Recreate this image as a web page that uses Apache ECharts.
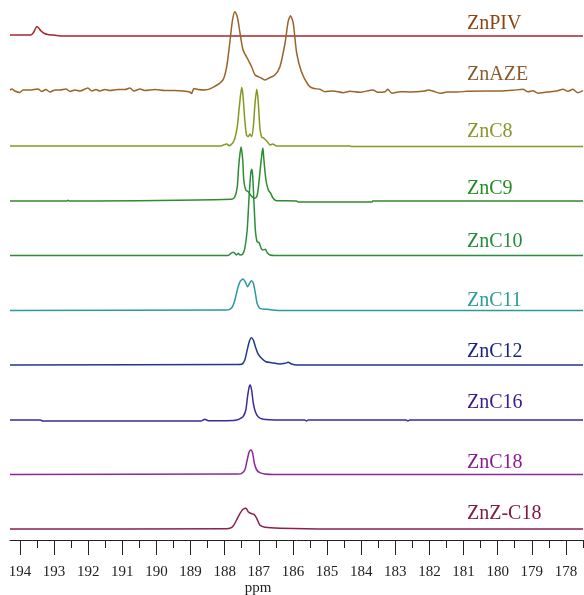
<!DOCTYPE html>
<html>
<head>
<meta charset="utf-8">
<title>13C NMR carboxylate region</title>
<script src="https://cdn.jsdelivr.net/npm/echarts@6/dist/echarts.min.js"></script>
<style>
  html, body { margin: 0; padding: 0; background: #ffffff; }
  #chart { width: 584px; height: 595px; }
</style>
</head>
<body>
<div id="chart"></div>
<script>
// Chemical shift axis (ppm), drawn high to low
const ppmMajorTicks = [194, 193, 192, 191, 190, 189, 188, 187, 186, 185, 184, 183, 182, 181, 180, 179, 178];
const ppmMinorTicks = [193.5, 192.5, 191.5, 190.5, 189.5, 188.5, 187.5, 186.5, 185.5, 184.5, 183.5, 182.5, 181.5, 180.5, 179.5, 178.5, 177.5];

// Sample names, top to bottom
const sampleNames = ['ZnPIV', 'ZnAZE', 'ZnC8', 'ZnC9', 'ZnC10', 'ZnC11', 'ZnC12', 'ZnC16', 'ZnC18', 'ZnZ-C18'];

// Vertical offset of each trace's baseline in the stacked plot
const stackOffsets = [504, 450, 394, 339, 284.5, 229.5, 175, 120, 65.5, 11];

// Spectra: [ppm, intensity]
const specZnPIV = [[194.29, 1], [193.68, 1], [193.6, 3.5], [193.55, 7], [193.5, 9.5], [193.45, 8], [193.38, 5],
  [193.28, 2.5], [193.18, 1.5], [192.9, 0.5], [192.74, 0], [177.5, 0]];

const specZnAZE = [[194.29, 0], [194.23, 1], [194.15, -1], [194.0, -2.5], [193.91, 0], [193.71, 0], [193.47, 1],
  [193.36, -1.5], [193.24, 0.5], [193.12, -2], [192.97, 0], [192.83, 0], [192.65, 1], [192.53, -1.5], [192.39, 0],
  [192.24, -1], [192.01, 2], [191.89, -1], [191.77, 0.5], [191.66, -1], [191.51, 0.5], [191.36, -0.5], [191.13, 0.5],
  [190.92, 0.5], [190.78, 2], [190.66, -1], [190.48, 1], [190.34, -0.5], [190.04, 0.5], [189.75, -0.5], [189.46, -0.5],
  [189.22, -1], [189.02, -2], [188.97, -3.5], [188.9, 1.5], [188.78, 0.5], [188.58, 0], [188.34, 2.7],
  [188.05, 10], [187.94, 23.3], [187.85, 47], [187.77, 70], [187.7, 78.3], [187.63, 73.3], [187.55, 57], [187.46, 40],
  [187.31, 30], [187.21, 23.3], [187.11, 15], [186.97, 12.7], [186.82, 10], [186.72, 11.7], [186.53, 15], [186.38, 23.3],
  [186.23, 47], [186.14, 68.3], [186.07, 74.3], [185.99, 66.7], [185.89, 37], [185.75, 18.3], [185.55, 5], [185.41, 1.7],
  [185.21, 0.7], [185.06, -1.7], [184.83, -1], [184.53, -2.7], [184.33, -1.3], [184.04, -2.3], [183.66, 0], [183.51, -2.3],
  [183.3, -1.7], [183.22, 0.7], [183.1, -3.3], [182.86, -1.7], [182.57, -2], [182.13, -1], [182.04, 0], [181.9, -1],
  [181.69, -3.3], [181.49, -2], [181.19, -2], [180.9, -1.3], [180.31, -1], [179.93, -1], [179.55, -0.3], [179.26, 0.7],
  [179.11, -1.7], [178.97, -0.7], [178.82, -3.3], [178.56, -2], [178.27, -1], [178.09, 0.7], [177.94, -1.3],
  [177.8, 0.7], [177.65, -2.7], [177.5, -0.7]];

const specZnC8 = [[194.29, 0], [188.1, 0], [188.04, 1], [187.94, 2], [187.87, 0.3], [187.77, 2.7], [187.7, 7.7],
  [187.63, 19.3], [187.57, 39.3], [187.5, 58.7], [187.46, 49.3], [187.41, 26], [187.36, 11], [187.31, 9.3], [187.26, 12],
  [187.21, 9.3], [187.16, 19.3], [187.11, 42.7], [187.06, 56.7], [187.02, 46], [186.97, 19.3], [186.92, 9.3],
  [186.85, 7.7], [186.75, 4.3], [186.67, 1], [186.59, 2], [186.48, 0], [184.32, 0], [184.28, -0.6], [177.5, -0.6]];

const specZnC9 = [[194.29, 0], [192.62, 0], [192.59, 0.8], [192.55, 0], [187.8, 1.7], [187.7, 4.3], [187.63, 14.3],
  [187.59, 34.3], [187.55, 47.7], [187.52, 54], [187.47, 41], [187.44, 21], [187.38, 11], [187.31, 9.3], [187.24, 6],
  [187.14, 2.7], [187.06, 4.3], [187.01, 14.3], [186.95, 34.3], [186.9, 49.3], [186.88, 53], [186.85, 41], [186.79, 21],
  [186.72, 11], [186.65, 7.7], [186.58, 2.7], [186.48, 0.3], [185.89, 0], [185.85, -1], [183.68, -1], [183.66, 0],
  [177.5, 0]];

const specZnC10 = [[194.29, 0], [187.9, 0], [187.85, 1.2], [187.75, 3.2], [187.7, 2.2], [187.65, 0.5], [187.6, 2.2],
  [187.55, 0.5], [187.47, 1.5], [187.41, 7.2], [187.34, 25.5], [187.29, 55.5], [187.24, 80.5], [187.21, 86.2],
  [187.18, 80.5], [187.14, 52.2], [187.1, 25.5], [187.05, 13.8], [186.99, 12.8], [186.93, 7.2], [186.87, 5.5],
  [186.81, 6.2], [186.75, 2.8], [186.67, 0.5], [186.53, 0], [177.5, 0]];

const specZnC11 = [[194.29, 0], [187.95, 0.5], [187.85, 1.2], [187.77, 3.8], [187.7, 10.5], [187.63, 20.5],
  [187.55, 28.8], [187.46, 31.5], [187.4, 28.8], [187.33, 23.8], [187.28, 26.5], [187.22, 29.8], [187.16, 27.2],
  [187.1, 17.2], [187.05, 7.2], [186.97, 2.2], [186.77, 1.2], [186.38, 0], [177.5, 0]];

const specZnC12 = [[194.29, 0], [187.6, 0.5], [187.5, 0.7], [187.41, 5], [187.34, 15], [187.28, 23.3], [187.22, 27.3],
  [187.16, 25], [187.1, 18.3], [187.03, 11.7], [186.92, 6.7], [186.79, 3.3], [186.62, 2.3], [186.38, 1], [186.23, 1.7],
  [186.14, 2.7], [186.04, 1], [185.89, 0], [177.5, 0]];

const specZnC16 = [[194.29, 0], [193.4, 0], [193.33, -1], [188.7, -1], [188.63, 0], [188.58, 0.7], [188.48, -0.7],
  [188.29, -0.7], [187.75, -0.5], [187.6, 0.5], [187.52, 2], [187.46, 3.3], [187.38, 10], [187.33, 23.3],
  [187.28, 33.3], [187.25, 35], [187.21, 30], [187.16, 16.7], [187.1, 8.3], [187.02, 3.3], [186.87, 0.7], [186.38, 0],
  [185.65, 0], [185.6, -1], [185.55, 0], [182.68, 0], [182.63, -1], [182.58, 0], [177.5, 0]];

const specZnC18 = [[194.29, 0], [187.6, 0.5], [187.5, 1.2], [187.41, 4.5], [187.34, 14.5], [187.28, 22.8],
  [187.23, 24.5], [187.18, 21.2], [187.13, 11.2], [187.06, 4.5], [186.97, 1.8], [186.82, 0.5], [186.58, 0], [177.5, 0]];

const specZnZC18 = [[194.29, 0], [187.95, 0.3], [187.85, 0.7], [187.75, 3], [187.65, 9], [187.55, 15.7],
  [187.46, 19.7], [187.38, 20.7], [187.31, 17.3], [187.24, 15.7], [187.14, 14.7], [187.06, 10.7], [186.97, 4],
  [186.82, 1.7], [186.38, 0.7], [184.92, 0], [177.5, 0]];

const spectra = [specZnPIV, specZnAZE, specZnC8, specZnC9, specZnC10, specZnC11, specZnC12, specZnC16, specZnC18, specZnZC18];

const lineColors = ['#a3282c', '#9a6428', '#7f9a1e', '#2e8b2e', '#2a8c3c', '#2a9a9a', '#1f3a8a', '#3a2a9a', '#8a2a9a', '#8a2050'];
const labelColors = ['#8b4513', '#8b5a2b', '#8a9428', '#228b22', '#228b3a', '#2a9a9a', '#1a237e', '#3a1a8e', '#8b1a8b', '#801a40'];
const labelY = [24, 75, 132, 189, 242, 301, 352, 403, 463, 514];

const chart = echarts.init(document.getElementById('chart'), null, { renderer: 'canvas' });

const serif = '"Liberation Serif", "Times New Roman", serif';
const axisRange = { min: 177.5, max: 194.29 };

const series = spectra.map((spec, i) => ({
  name: sampleNames[i],
  type: 'line',
  xAxisIndex: 0,
  yAxisIndex: 0,
  data: spec.map(p => [p[0], stackOffsets[i] + p[1]]),
  showSymbol: false,
  smooth: 0.25,
  lineStyle: { color: lineColors[i], width: 1.5 },
  silent: true
}));

const labels = sampleNames.map((name, i) => ({
  type: 'text',
  x: 467,
  y: labelY[i],
  style: {
    text: name,
    fill: labelColors[i],
    font: '20px ' + serif,
    verticalAlign: 'middle'
  }
}));

chart.setOption({
  animation: false,
  backgroundColor: '#ffffff',
  grid: [
    { left: 10, right: 1, top: 0, bottom: 55 },
    { left: 10, right: 1, top: 0, bottom: 55 }
  ],
  xAxis: [
    {
      type: 'value', gridIndex: 0, inverse: true, ...axisRange, position: 'bottom',
      axisLine: { show: true, lineStyle: { color: '#222', width: 1 } },
      axisTick: { show: true, inside: false, length: 15, customValues: ppmMajorTicks, lineStyle: { color: '#222', width: 1 } },
      axisLabel: { show: true, customValues: ppmMajorTicks, margin: 25, color: '#222', fontFamily: serif, fontSize: 15 },
      splitLine: { show: false }
    },
    {
      type: 'value', gridIndex: 1, inverse: true, ...axisRange, position: 'bottom',
      axisLine: { show: false },
      axisTick: { show: true, inside: false, length: 8, customValues: ppmMinorTicks, lineStyle: { color: '#222', width: 1 } },
      axisLabel: { show: false },
      splitLine: { show: false }
    }
  ],
  yAxis: [
    { type: 'value', gridIndex: 0, min: 0, max: 540, show: false },
    { type: 'value', gridIndex: 1, min: 0, max: 540, show: false }
  ],
  series: series,
  graphic: labels.concat([{
    type: 'text',
    x: 258,
    y: 588,
    style: { text: 'ppm', fill: '#222', font: '15px ' + serif, align: 'center', verticalAlign: 'middle' }
  }])
});
</script>
</body>
</html>
